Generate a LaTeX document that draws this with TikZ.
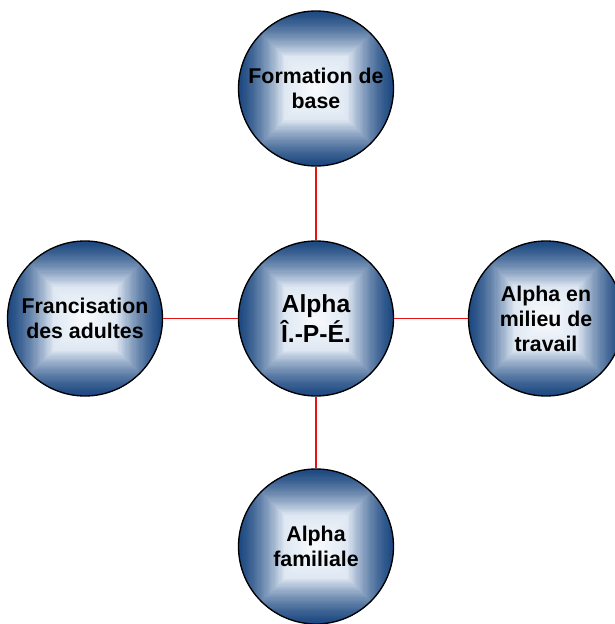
\documentclass[tikz,border=0pt]{standalone}
\usepackage{fontspec}
\setmainfont{Liberation Sans}
\usetikzlibrary{calc}
\definecolor{dk}{RGB}{28,72,128}
\definecolor{lt}{RGB}{222,231,242}
\definecolor{wh}{RGB}{250,252,254}
\definecolor{linkred}{RGB}{230,20,20}
\tikzset{
  bubble/.style={circle, draw=black, line width=1pt, minimum size=116.25pt,
    inner sep=0pt, align=center, font=\bfseries\fontsize{16}{18.75}\selectfont,
    path picture={
      \foreach \k in {0,...,40}{
        \pgfmathsetmacro\s{59-35*\k/40}
        \pgfmathsetmacro\p{100*(\k/40)^1.4}
        \fill[lt!\p!dk] ([shift={(-\s pt,-\s pt)}]path picture bounding box.center)
          rectangle ([shift={(\s pt,\s pt)}]path picture bounding box.center);
      }
      \foreach \k in {1,...,15}{
        \pgfmathsetmacro\s{24*(1-\k/15)+0.1}
        \pgfmathsetmacro\p{100*\k/15}
        \fill[wh!\p!lt] ([shift={(-\s pt,-\s pt)}]path picture bounding box.center)
          rectangle ([shift={(\s pt,\s pt)}]path picture bounding box.center);
      }
    }},
  bigtext/.style={font=\bfseries\fontsize{18.5}{22.5}\selectfont},
  link/.style={draw=linkred, line width=1.1pt}
}
\begin{document}
\begin{tikzpicture}[x=0.75pt,y=-0.75pt]
\useasboundingbox (0,0) rectangle (614,624);
\node[bubble] (top) at (316,88.5) {Formation de\\base};
\node[bubble,bigtext] (mid) at (316,318.5) {Alpha\\Î.-P-É.};
\node[bubble] (left) at (85,318.5) {Francisation\\des adultes};
\node[bubble] (right) at (546,318.5) {Alpha en\\milieu de\\travail};
\node[bubble] (bot) at (316,546.5) {Alpha\\familiale};
\draw[link] (top) -- (mid);
\draw[link] (left) -- (mid);
\draw[link] (mid) -- (right);
\draw[link] (mid) -- (bot);
\end{tikzpicture}
\end{document}
